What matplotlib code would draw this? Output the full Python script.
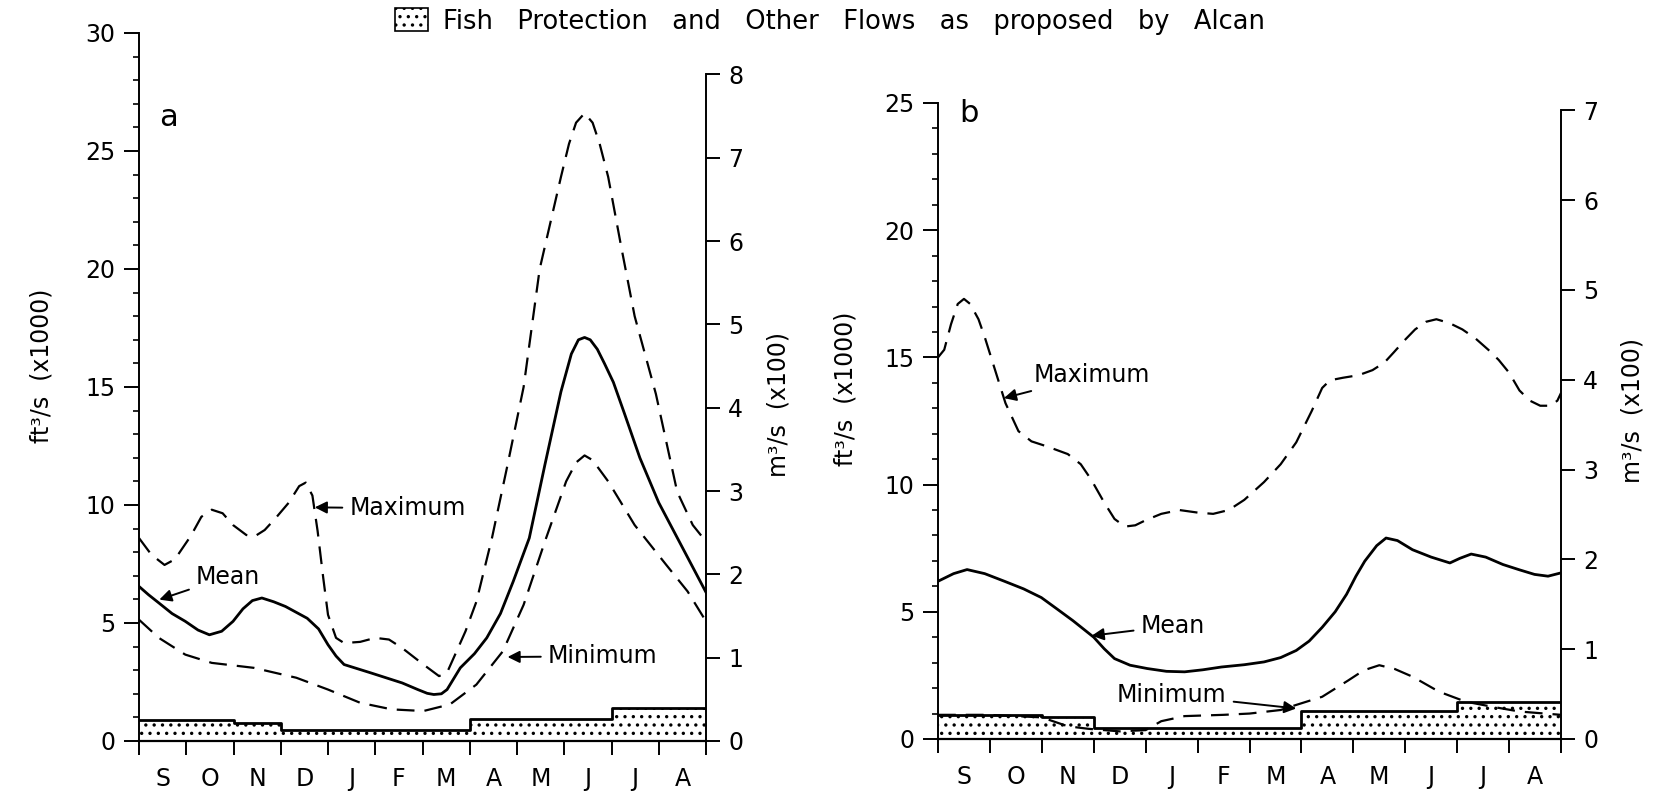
import numpy as np
import matplotlib.pyplot as plt
from matplotlib.patches import Patch
from matplotlib.ticker import MultipleLocator, FixedLocator

plt.rcParams['font.family'] = ['DejaVu Sans']
plt.rcParams['hatch.color'] = 'black'
plt.rcParams['hatch.linewidth'] = 1.2

# 1 x100 m3/s expressed in 1000 ft3/s
CONV = 3.531

months = ['S', 'O', 'N', 'D', 'J', 'F', 'M', 'A', 'M', 'J', 'J', 'A']

# ---- panel a (month index from 1 Sep, flow in 1000 ft3/s) ----
a_mean_x = [0, 0.2, 0.42, 0.7, 0.98, 1.25, 1.49, 1.75, 1.99, 2.2, 2.4, 2.6, 2.85, 3.1, 3.33, 3.56,
            3.8, 4.0, 4.17, 4.34, 4.9, 5.57, 5.9, 6.1, 6.24, 6.4, 6.52, 6.8, 7.1, 7.36, 7.65, 7.92,
            8.26, 8.59, 8.93, 9.15, 9.3, 9.43, 9.55, 9.7, 9.85, 10.04, 10.27, 10.6, 11.0, 11.5, 12]
a_mean_y = [6.55, 6.2, 5.85, 5.4, 5.07, 4.7, 4.5, 4.65, 5.07, 5.6, 5.95, 6.06, 5.9, 5.7, 5.45, 5.2,
            4.75, 4.08, 3.6, 3.24, 2.89, 2.46, 2.18, 2.02, 1.97, 2.0, 2.18, 3.1, 3.7, 4.37, 5.4, 6.76,
            8.6, 11.7, 14.8, 16.4, 17.0, 17.1, 17.0, 16.6, 16.0, 15.2, 13.9, 12.0, 10.1, 8.2, 6.3]

a_max_x = [0, 0.26, 0.54, 0.76, 1.1, 1.32, 1.54, 1.77, 1.99, 2.27, 2.44, 2.66, 2.89, 3.17, 3.39,
           3.53, 3.67, 3.78, 3.9, 4.0, 4.17, 4.34, 4.68, 5.0, 5.29, 5.57, 6.02, 6.35, 6.52, 6.69,
           6.91, 7.14, 7.47, 7.8, 8.14, 8.48, 8.93, 9.1, 9.25, 9.43, 9.6, 9.75, 9.93, 10.2,
           10.49, 10.94, 11.39, 11.72, 12]
a_max_y = [8.6, 7.9, 7.46, 7.7, 8.7, 9.5, 9.8, 9.65, 9.15, 8.73, 8.66, 8.94, 9.44, 10.1, 10.8,
           10.95, 10.4, 8.9, 6.9, 5.35, 4.37, 4.15, 4.2, 4.37, 4.3, 3.94, 3.24, 2.75, 2.9, 3.66,
           4.65, 5.9, 8.6, 11.7, 15.0, 20.0, 23.9, 25.3, 26.2, 26.6, 26.2, 25.3, 23.9, 21.0,
           18.0, 14.7, 10.56, 9.15, 8.45]

a_min_x = [0, 0.42, 0.98, 1.54, 2.43, 3.33, 4.0, 4.68, 5.35, 6.02, 6.58, 7.14, 7.7, 8.14, 8.59,
           9.04, 9.25, 9.43, 9.6, 9.93, 10.49, 11.16, 11.61, 12]
a_min_y = [5.14, 4.37, 3.66, 3.31, 3.1, 2.68, 2.18, 1.62, 1.34, 1.27, 1.55, 2.39, 3.8, 5.77, 8.45,
           11.0, 11.8, 12.1, 11.9, 11.0, 9.15, 7.46, 6.34, 5.07]

a_fish_x = [0, 2, 3, 7, 10, 12]
a_fish_y = [0.9, 0.75, 0.45, 0.95, 1.4, 1.4]

# ---- panel b ----
b_mean_x = [0, 0.3, 0.56, 0.9, 1.28, 1.65, 1.99, 2.3, 2.6, 3.0, 3.2, 3.4, 3.7, 4.03, 4.4, 4.75,
            5.1, 5.46, 5.9, 6.28, 6.6, 6.9, 7.15, 7.4, 7.65, 7.87, 8.05, 8.22, 8.45, 8.63, 8.85,
            9.14, 9.5, 9.86, 10.05, 10.27, 10.55, 10.88, 11.2, 11.49, 11.75, 12]
b_mean_y = [6.2, 6.5, 6.66, 6.5, 6.2, 5.9, 5.56, 5.1, 4.65, 4.0, 3.55, 3.16, 2.9, 2.77, 2.66, 2.64,
            2.72, 2.83, 2.92, 3.03, 3.2, 3.48, 3.85, 4.39, 5.0, 5.69, 6.4, 6.99, 7.6, 7.9, 7.8,
            7.44, 7.15, 6.92, 7.1, 7.27, 7.15, 6.86, 6.65, 6.47, 6.4, 6.53]

b_max_x = [0, 0.12, 0.25, 0.38, 0.5, 0.62, 0.78, 0.9, 1.1, 1.3, 1.55, 1.8, 2.1, 2.5, 2.75, 2.95,
           3.2, 3.4, 3.6, 3.8, 4.0, 4.3, 4.65, 5.0, 5.3, 5.6, 5.9, 6.28, 6.6, 6.9, 7.2, 7.4, 7.55,
           7.8, 8.1, 8.37, 8.6, 8.78, 9.0, 9.19, 9.4, 9.6, 9.85, 10.1, 10.35, 10.6, 10.8, 11.0,
           11.2, 11.4, 11.6, 11.8, 11.93, 12]
b_max_y = [15.0, 15.3, 16.3, 17.1, 17.3, 17.1, 16.5, 15.8, 14.5, 13.2, 12.1, 11.7, 11.5, 11.2,
           10.8, 10.2, 9.3, 8.65, 8.35, 8.4, 8.6, 8.85, 9.0, 8.9, 8.85, 9.0, 9.4, 10.1, 10.8,
           11.66, 12.9, 13.8, 14.1, 14.2, 14.3, 14.5, 14.8, 15.2, 15.7, 16.1, 16.4, 16.5, 16.35,
           16.1, 15.75, 15.3, 14.9, 14.4, 13.7, 13.3, 13.1, 13.1, 13.3, 13.6]

b_min_x = [0, 0.97, 2.0, 2.5, 2.9, 3.5, 4.0, 4.3, 4.75, 5.5, 6.0, 6.6, 6.9, 7.4, 7.9, 8.2, 8.5,
           8.8, 9.15, 9.65, 10.16, 10.67, 11.2, 12]
b_min_y = [0.95, 0.95, 0.85, 0.5, 0.4, 0.3, 0.35, 0.7, 0.9, 0.95, 1.0, 1.14, 1.34, 1.66, 2.3,
           2.7, 2.9, 2.75, 2.44, 1.86, 1.47, 1.27, 1.08, 0.95]

b_fish_x = [0, 2, 3, 7, 10, 12]
b_fish_y = [0.95, 0.85, 0.45, 1.1, 1.45, 1.45]

FS = 17
DASH = (0, (8, 4.5))


def setup_panel(ax, ytop, rtop, letter, letter_pos, lab_left, lab_right):
    ax.set_xlim(0, 12)
    ax.set_ylim(0, ytop)
    ax.spines['top'].set_visible(False)
    ax.spines['right'].set_visible(False)
    ax.spines['left'].set_linewidth(1.4)
    ax.spines['bottom'].set_linewidth(1.6)

    ax.xaxis.set_major_locator(FixedLocator(range(13)))
    ax.xaxis.set_minor_locator(FixedLocator(np.arange(12) + 0.5))
    ax.set_xticklabels([])
    ax.set_xticklabels(months, minor=True, fontsize=FS)
    ax.tick_params(axis='x', which='major', direction='out', length=10, width=1.4)
    ax.tick_params(axis='x', which='minor', length=0, pad=19)

    ax.yaxis.set_major_locator(MultipleLocator(5))
    ax.yaxis.set_minor_locator(MultipleLocator(1))
    ax.tick_params(axis='y', which='major', direction='out', length=11, width=1.4,
                   labelsize=FS, pad=6)
    ax.tick_params(axis='y', which='minor', direction='out', length=4, width=1.2)

    ax.set_ylabel('ft³/s  (x1000)', fontsize=FS)
    ax.yaxis.set_label_coords(*lab_left)

    tw = ax.twinx()
    tw.set_ylim(0, ytop / CONV)
    tw.set_yticks(range(rtop + 1))
    for s in ('left', 'top', 'bottom'):
        tw.spines[s].set_visible(False)
    tw.spines['right'].set_bounds(0, rtop)
    tw.spines['right'].set_linewidth(1.4)
    tw.tick_params(axis='y', direction='out', length=10, width=1.4, labelsize=FS, pad=6)
    tw.set_ylabel('m³/s  (x100)', fontsize=FS, rotation=90)
    tw.yaxis.set_label_coords(*lab_right)

    ax.text(letter_pos[0], letter_pos[1], letter, fontsize=22, ha='center', va='center')
    return tw


def draw_series(ax, mx, my, xx, xy, nx, ny, fx, fy):
    ax.fill_between(fx, fy, step='post', facecolor='white', edgecolor='black',
                    hatch='..', linewidth=0, zorder=1)
    ax.step(fx, fy, where='post', color='black', lw=2, zorder=2)
    ax.plot(xx, xy, color='black', lw=1.6, ls=DASH, zorder=3)
    ax.plot(nx, ny, color='black', lw=1.6, ls=DASH, zorder=3)
    ax.plot(mx, my, color='black', lw=2.0, zorder=4)


def label(ax, txt, xy, xytext):
    ax.annotate(txt, xy=xy, xytext=xytext, fontsize=FS, ha='left', va='center',
                arrowprops=dict(arrowstyle='-|>', color='black', lw=1.4, mutation_scale=18,
                                shrinkA=3, shrinkB=0))


fig = plt.figure(figsize=(16.6, 7.91), dpi=100)
ax_a = fig.add_axes([139 / 1660, 1 - 741 / 791, 567 / 1660, 708 / 791])
ax_b = fig.add_axes([938 / 1660, 1 - 739 / 791, 623 / 1660, 636 / 791])

setup_panel(ax_a, 30, 8, 'a', (0.63, 26.4), (-0.15, 0.53), (1.106, 0.475))
setup_panel(ax_b, 25, 7, 'b', (0.6, 24.6), (-0.13, 0.55), (1.096, 0.517))

draw_series(ax_a, a_mean_x, a_mean_y, a_max_x, a_max_y, a_min_x, a_min_y, a_fish_x, a_fish_y)
draw_series(ax_b, b_mean_x, b_mean_y, b_max_x, b_max_y, b_min_x, b_min_y, b_fish_x, b_fish_y)

label(ax_a, 'Maximum', (3.72, 9.9), (4.45, 9.86))
label(ax_a, 'Mean', (0.43, 5.99), (1.2, 6.97))
label(ax_a, 'Minimum', (7.8, 3.56), (8.65, 3.59))

label(ax_b, 'Maximum', (1.27, 13.4), (1.85, 14.3))
label(ax_b, 'Mean', (2.96, 4.06), (3.9, 4.45))
label(ax_b, 'Minimum', (6.9, 1.2), (3.45, 1.73))

fig.legend(handles=[Patch(facecolor='white', edgecolor='black', hatch='..', lw=1.2)],
           labels=['Fish   Protection   and   Other   Flows   as   proposed   by   Alcan'],
           loc='center', bbox_to_anchor=(0.5, 0.973), frameon=False, fontsize=18.5,
           handlelength=1.3, handleheight=1.0, handletextpad=0.6)

fig.savefig('out.png', dpi=100)
